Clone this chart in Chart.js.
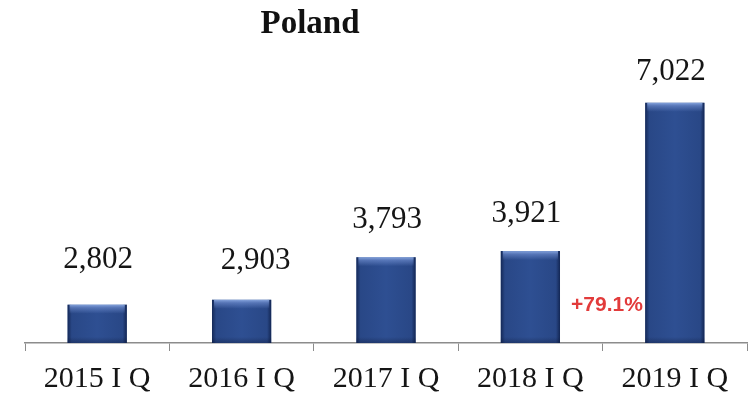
<!DOCTYPE html>
<html>
<head>
<meta charset="utf-8">
<script src="https://cdn.jsdelivr.net/npm/chart.js@4"></script>
<style>
  html, body { margin: 0; padding: 0; background: #ffffff; }
  #wrap { width: 752px; height: 400px; }
</style>
</head>
<body>
<div id="wrap"><canvas id="c" width="752" height="400"></canvas></div>
<script>
// Quarterly figures for Poland
const chartTitle = 'Poland';
const quarters = ['2015 I Q', '2016 I Q', '2017 I Q', '2018 I Q', '2019 I Q'];
const values = [2802, 2903, 3793, 3921, 7022];
const growthNote = '+79.1%';
const axisMin = 2000;
const axisMax = 8000;

const serif = "'Liberation Serif', 'Times New Roman', serif";

// Title drawn above the plot
const titlePlugin = {
  id: 'titleText',
  afterDraw(chart) {
    const ctx = chart.ctx;
    ctx.save();
    ctx.font = 'bold 33px ' + serif;
    ctx.fillStyle = '#111111';
    ctx.textAlign = 'center';
    ctx.textBaseline = 'alphabetic';
    ctx.fillText(chartTitle, 310, 33);
    ctx.restore();
  }
};

// Shading that gives the bars their rounded, glossy look
const barShade = {
  id: 'barShade',
  afterDatasetsDraw(chart) {
    const ctx = chart.ctx;
    const meta = chart.getDatasetMeta(0);
    const area = chart.chartArea;
    ctx.save();
    meta.data.forEach(bar => {
      const left = bar.x - bar.width / 2;
      const right = bar.x + bar.width / 2;
      const top = bar.y;
      const bottom = Math.min(bar.base, area.bottom);
      const h = bottom - top;
      // side darkening
      const g = ctx.createLinearGradient(left, 0, right, 0);
      g.addColorStop(0, 'rgba(12,28,68,0.75)');
      g.addColorStop(0.07, 'rgba(12,28,68,0.15)');
      g.addColorStop(0.5, 'rgba(12,28,68,0)');
      g.addColorStop(0.93, 'rgba(12,28,68,0.15)');
      g.addColorStop(1, 'rgba(12,28,68,0.8)');
      ctx.fillStyle = g;
      ctx.fillRect(left, top, right - left, h);
      // top highlight
      const hl = Math.min(9, h / 3);
      const t = ctx.createLinearGradient(0, top, 0, top + hl);
      t.addColorStop(0, 'rgba(150,180,235,0.85)');
      t.addColorStop(0.35, 'rgba(120,150,215,0.55)');
      t.addColorStop(1, 'rgba(120,150,215,0)');
      ctx.fillStyle = t;
      ctx.fillRect(left + 2, top, right - left - 4, hl);
      // slight darkening at the foot
      const b = ctx.createLinearGradient(0, bottom - 6, 0, bottom);
      b.addColorStop(0, 'rgba(10,20,50,0)');
      b.addColorStop(1, 'rgba(10,20,50,0.35)');
      ctx.fillStyle = b;
      ctx.fillRect(left, bottom - 6, right - left, 6);
    });
    ctx.restore();
  }
};

// Value labels above the bars and the growth note
const valueLabels = {
  id: 'valueLabels',
  afterDatasetsDraw(chart, args, opts) {
    const ctx = chart.ctx;
    const meta = chart.getDatasetMeta(0);
    const vals = chart.data.datasets[0].data;
    ctx.save();
    ctx.font = '31px ' + serif;
    ctx.fillStyle = '#151515';
    ctx.textAlign = 'center';
    ctx.textBaseline = 'middle';
    meta.data.forEach((bar, i) => {
      const txt = vals[i].toLocaleString('en-US');
      ctx.fillText(txt, bar.x + opts.dx[i], bar.y - opts.dy[i]);
    });
    const xs = chart.scales.x;
    const ys = chart.scales.y;
    ctx.font = "bold 21px 'Liberation Sans', Arial, sans-serif";
    ctx.fillStyle = '#e23b3b';
    ctx.fillText(growthNote, xs.getPixelForValue(3.53), ys.getPixelForValue(2790));
    ctx.restore();
  }
};

new Chart(document.getElementById('c'), {
  type: 'bar',
  data: {
    labels: quarters,
    datasets: [{
      data: values,
      backgroundColor: '#2e4f92',
      borderWidth: 0,
      barPercentage: 0.41,
      categoryPercentage: 1.0
    }]
  },
  options: {
    responsive: false,
    animation: false,
    layout: { padding: { top: 56, left: 25, right: 5, bottom: -7 } },
    plugins: {
      legend: { display: false },
      tooltip: { enabled: false },
      title: { display: false },
      valueLabels: {
        dx: [1, 14, 1, -4, -4],
        dy: [45, 39, 37, 37, 31]
      }
    },
    scales: {
      x: {
        grid: {
          display: true,
          drawOnChartArea: false,
          drawTicks: true,
          tickLength: 8,
          color: '#8c8c8c',
          offset: true
        },
        border: { display: true, color: '#8c8c8c', width: 1.5 },
        ticks: {
          font: { family: serif, size: 30 },
          color: '#151515',
          padding: 10,
          maxRotation: 0,
          autoSkip: false
        }
      },
      y: {
        display: false,
        min: axisMin,
        max: axisMax
      }
    }
  },
  plugins: [titlePlugin, barShade, valueLabels]
});
</script>
</body>
</html>
